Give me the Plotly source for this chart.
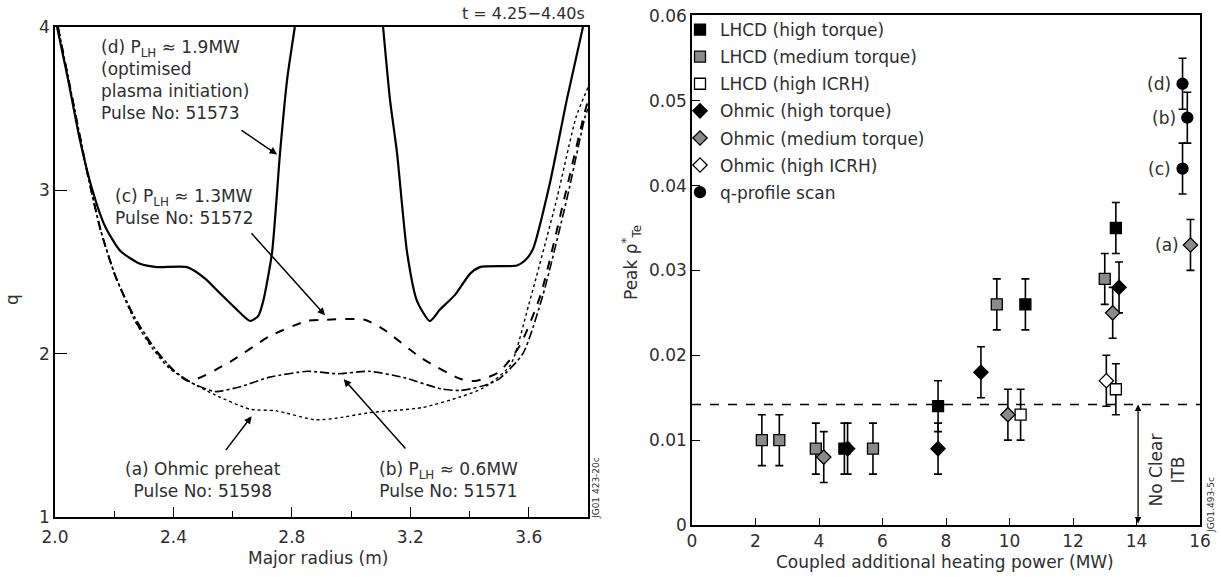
import plotly.graph_objects as go

# ---------------- Left panel: q profiles ----------------
R_d_in = [2.007, 2.044, 2.084, 2.125, 2.169, 2.22, 2.287, 2.344, 2.446, 2.507, 2.557, 2.608, 2.659, 2.686, 2.703, 2.733, 2.76, 2.784, 2.81]
q_d_in = [4.0, 3.68, 3.31, 3.01, 2.78, 2.63, 2.55, 2.53, 2.53, 2.46, 2.37, 2.28, 2.20, 2.23, 2.32, 2.62, 3.23, 3.68, 4.0]
R_d_out = [3.108, 3.131, 3.155, 3.189, 3.223, 3.266, 3.30, 3.351, 3.402, 3.435, 3.56, 3.587, 3.614, 3.672, 3.729, 3.783]
q_d_out = [4.0, 3.56, 3.23, 2.62, 2.32, 2.20, 2.27, 2.36, 2.49, 2.53, 2.54, 2.57, 2.64, 3.05, 3.56, 4.0]

R_c = [2.01, 2.06, 2.11, 2.155, 2.205, 2.282, 2.36, 2.45, 2.593, 2.722, 2.852, 2.917, 3.046, 3.111, 3.24, 3.37, 3.421, 3.499, 3.57, 3.64, 3.72, 3.785, 3.8]
q_c = [4.0, 3.55, 3.1, 2.75, 2.47, 2.169, 1.974, 1.833, 1.952, 2.104, 2.201, 2.208, 2.208, 2.147, 1.97, 1.845, 1.833, 1.887, 2.05, 2.36, 2.95, 3.45, 3.55]

R_b = [2.01, 2.06, 2.11, 2.155, 2.205, 2.27, 2.334, 2.399, 2.463, 2.541, 2.63, 2.722, 2.852, 2.955, 3.059, 3.175, 3.305, 3.37, 3.44, 3.499, 3.58, 3.648, 3.729, 3.79, 3.8]
q_b = [4.0, 3.55, 3.1, 2.75, 2.47, 2.22, 2.04, 1.90, 1.82, 1.768, 1.80, 1.855, 1.892, 1.877, 1.892, 1.855, 1.784, 1.775, 1.80, 1.844, 2.0, 2.36, 2.95, 3.45, 3.5]

R_a = [2.01, 2.06, 2.11, 2.155, 2.205, 2.27, 2.33, 2.386, 2.463, 2.541, 2.658, 2.748, 2.877, 2.955, 3.059, 3.24, 3.37, 3.447, 3.538, 3.60, 3.695, 3.76, 3.8]
q_a = [4.0, 3.55, 3.1, 2.75, 2.47, 2.2, 2.03, 1.91, 1.82, 1.747, 1.66, 1.65, 1.595, 1.606, 1.638, 1.67, 1.736, 1.79, 1.93, 2.30, 2.95, 3.45, 3.63]

left_xticks = [2.0, 2.4, 2.8, 3.2, 3.6]
left_xticklabels = ["2.0", "2.4", "2.8", "3.2", "3.6"]
left_xminor = [2.2, 2.6, 3.0, 3.4]
left_yticks = [1, 2, 3, 4]

# ---------------- Right panel: peak rho*_Te ----------------
lhcd_high_torque_P = [4.8, 7.75, 10.5, 13.35]
lhcd_high_torque_v = [0.009, 0.014, 0.026, 0.035]
lhcd_high_torque_e = [0.003, 0.003, 0.003, 0.003]

lhcd_med_torque_P = [2.2, 2.75, 3.9, 5.7, 9.6, 13.0]
lhcd_med_torque_v = [0.010, 0.010, 0.009, 0.009, 0.026, 0.029]
lhcd_med_torque_e = [0.003, 0.003, 0.003, 0.003, 0.003, 0.003]

lhcd_high_icrh_P = [10.35, 13.35]
lhcd_high_icrh_v = [0.013, 0.016]
lhcd_high_icrh_e = [0.003, 0.003]

ohm_high_torque_P = [4.9, 7.75, 9.1, 13.45]
ohm_high_torque_v = [0.009, 0.009, 0.018, 0.028]
ohm_high_torque_e = [0.003, 0.003, 0.003, 0.003]

ohm_med_torque_P = [4.15, 9.95, 13.25, 15.7]
ohm_med_torque_v = [0.008, 0.013, 0.025, 0.033]
ohm_med_torque_e = [0.003, 0.003, 0.003, 0.003]

ohm_high_icrh_P = [13.05]
ohm_high_icrh_v = [0.017]
ohm_high_icrh_e = [0.003]

qscan_P = [15.45, 15.6, 15.45]
qscan_v = [0.052, 0.048, 0.042]
qscan_e = [0.003, 0.003, 0.003]
qscan_labels = ["(d)", "(b)", "(c)"]
qscan_a_label = "(a)"

right_xticks = [0, 2, 4, 6, 8, 10, 12, 14, 16]
right_yticks = [0, 0.01, 0.02, 0.03, 0.04, 0.05, 0.06]
right_yticklabels = ["0", "0.01", "0.02", "0.03", "0.04", "0.05", "0.06"]

itb_threshold = 0.0142
itb_arrow_P = 14.05

FONT = "DejaVu Sans, Liberation Sans, Arial, sans-serif"
TXT = "#2e2e2e"

# body margin is removed in the page, so pixel coordinates map directly
W, H = 1221, 577


def px(x):
    return x / W


def py(y):
    return 1 - y / H


fig = go.Figure()


def curve(x, y, dash, width):
    fig.add_trace(go.Scatter(x=x, y=y, mode="lines", xaxis="x", yaxis="y",
                             line=dict(color="black", width=width, dash=dash, shape="spline", smoothing=0.6),
                             showlegend=False, hoverinfo="skip"))


curve(R_a, q_a, "dot", 1.4)
curve(R_b, q_b, "dashdot", 1.6)
curve(R_c, q_c, "dash", 2.0)
curve(R_d_in, q_d_in, "solid", 2.2)
curve(R_d_out, q_d_out, "solid", 2.2)


def series(name, x, y, e, symbol, fill, group):
    fig.add_trace(go.Scatter(
        x=x, y=y, mode="markers", name=name, xaxis="x2", yaxis="y2",
        legendgroup=group,
        marker=dict(symbol=symbol, size=11, color=fill, line=dict(color="black", width=1.3)),
        error_y=dict(type="data", array=e, visible=True, color="black", thickness=1.6, width=4),
    ))


series("LHCD (high torque)", lhcd_high_torque_P, lhcd_high_torque_v, lhcd_high_torque_e, "square", "black", "g1")
series("LHCD (medium torque)", lhcd_med_torque_P, lhcd_med_torque_v, lhcd_med_torque_e, "square", "#8a8a8a", "g2")
series("LHCD (high ICRH)", lhcd_high_icrh_P, lhcd_high_icrh_v, lhcd_high_icrh_e, "square", "white", "g3")
series("Ohmic (high torque)", ohm_high_torque_P, ohm_high_torque_v, ohm_high_torque_e, "diamond", "black", "g4")
series("Ohmic (medium torque)", ohm_med_torque_P, ohm_med_torque_v, ohm_med_torque_e, "diamond", "#8a8a8a", "g5")
series("Ohmic (high ICRH)", ohm_high_icrh_P, ohm_high_icrh_v, ohm_high_icrh_e, "diamond", "white", "g6")
series("q-profile scan", qscan_P, qscan_v, qscan_e, "circle", "black", "g7")

axis_common = dict(showline=True, linecolor="black", linewidth=1.6, mirror=True, ticks="inside",
                   tickcolor="black", tickwidth=1.4, showgrid=False, zeroline=False,
                   tickfont=dict(family=FONT, size=17, color=TXT), automargin=False)

fig.update_layout(
    width=W, height=H,
    margin=dict(l=0, r=0, t=0, b=0),
    paper_bgcolor="white", plot_bgcolor="white",
    font=dict(family=FONT, size=17, color=TXT),
    xaxis=dict(domain=[px(55), px(588)], range=[2.0, 3.8], tickvals=left_xticks,
               ticktext=left_xticklabels, ticklen=10, ticklabelstandoff=4,
               minor=dict(tickvals=left_xminor, ticks="inside", ticklen=6, tickcolor="black"),
               anchor="y", **axis_common),
    yaxis=dict(domain=[py(517), py(27)], range=[1, 4], tickvals=left_yticks, ticklen=12,
               anchor="x", **axis_common),
    xaxis2=dict(domain=[px(692), px(1200)], range=[0, 16], tickvals=right_xticks, ticklen=7,
                anchor="y2", **axis_common),
    yaxis2=dict(domain=[py(525), py(15)], range=[0, 0.0601], tickvals=right_yticks,
                ticktext=right_yticklabels, ticklen=8, anchor="x2", **axis_common),
    legend=dict(x=px(680), y=py(12), xanchor="left", yanchor="top", bgcolor="rgba(0,0,0,0)",
                font=dict(family=FONT, size=17, color=TXT), tracegroupgap=2, itemwidth=30),
    showlegend=True,
)

# threshold line
fig.add_shape(type="line", xref="x2", yref="y2", x0=0, x1=16, y0=itb_threshold, y1=itb_threshold,
              line=dict(color="black", width=1.6, dash="dash"))

ann = []
# left panel texts
ann.append(dict(xref="x", yref="y", x=2.15, y=3.95, xanchor="left", yanchor="top", align="left",
                text="(d) P<sub>LH</sub> ≈ 1.9MW<br>(optimised<br>plasma initiation)<br>Pulse No: 51573",
                showarrow=False))
ann.append(dict(xref="x", yref="y", x=2.75, y=3.22, ax=2.625, ay=3.373, axref="x", ayref="y",
                text="", showarrow=True, arrowhead=2, arrowsize=1, arrowwidth=1.5, arrowcolor="black"))
ann.append(dict(xref="x", yref="y", x=2.196, y=3.04, xanchor="left", yanchor="top", align="left",
                text="(c) P<sub>LH</sub> ≈ 1.3MW<br>Pulse No: 51572", showarrow=False))
ann.append(dict(xref="x", yref="y", x=2.912, y=2.235, ax=2.659, ay=2.746, axref="x", ayref="y",
                text="", showarrow=True, arrowhead=2, arrowsize=1, arrowwidth=1.5, arrowcolor="black"))
ann.append(dict(xref="x", yref="y", x=2.50, y=1.37, xanchor="center", yanchor="top", align="center",
                text="(a) Ohmic preheat<br>Pulse No: 51598", showarrow=False))
ann.append(dict(xref="x", yref="y", x=2.664, y=1.617, ax=2.573, ay=1.40, axref="x", ayref="y",
                text="", showarrow=True, arrowhead=2, arrowsize=1, arrowwidth=1.5, arrowcolor="black"))
ann.append(dict(xref="x", yref="y", x=3.33, y=1.37, xanchor="center", yanchor="top", align="center",
                text="(b) P<sub>LH</sub> ≈ 0.6MW<br>Pulse No: 51571", showarrow=False))
ann.append(dict(xref="x", yref="y", x=2.975, y=1.844, ax=3.188, ay=1.41, axref="x", ayref="y",
                text="", showarrow=True, arrowhead=2, arrowsize=1, arrowwidth=1.5, arrowcolor="black"))
ann.append(dict(xref="paper", yref="paper", x=px(587), y=py(13), xanchor="right", yanchor="middle",
                text="t = 4.25−4.40s", showarrow=False, font=dict(size=16)))
ann.append(dict(xref="paper", yref="paper", x=px(12), y=py(300), xanchor="center", yanchor="middle",
                text="q", textangle=-90, showarrow=False))
ann.append(dict(xref="paper", yref="paper", x=px(318), y=py(558), xanchor="center", yanchor="middle",
                text="Major radius (m)", showarrow=False))
ann.append(dict(xref="paper", yref="paper", x=px(596), y=py(488), xanchor="center", yanchor="middle",
                text="JG01 423-20c", textangle=-90, showarrow=False, font=dict(size=9)))

# right panel texts
ann.append(dict(xref="paper", yref="paper", x=px(632), y=py(262), xanchor="center", yanchor="middle",
                text="Peak ρ<sup>*</sup><sub>Te</sub>", textangle=-90, showarrow=False))
ann.append(dict(xref="paper", yref="paper", x=px(945), y=py(562), xanchor="center", yanchor="middle",
                text="Coupled additional heating power (MW)", showarrow=False))
ann.append(dict(xref="paper", yref="paper", x=px(1211), y=py(505), xanchor="center", yanchor="middle",
                text="JG01.493-5c", textangle=-90, showarrow=False, font=dict(size=9)))
for P, v, lab in zip(qscan_P, qscan_v, qscan_labels):
    ann.append(dict(xref="x2", yref="y2", x=P - 0.3, y=v, xanchor="right", yanchor="middle",
                    text=lab, showarrow=False))
ann.append(dict(xref="x2", yref="y2", x=ohm_med_torque_P[-1] - 0.3, y=ohm_med_torque_v[-1],
                xanchor="right", yanchor="middle", text=qscan_a_label, showarrow=False))
ann.append(dict(xref="x2", yref="y2", x=itb_arrow_P, y=itb_threshold, ax=itb_arrow_P, ay=0,
                axref="x2", ayref="y2", text="", showarrow=True, arrowhead=2, startarrowhead=2,
                arrowside="end+start", arrowsize=1, arrowwidth=1.3, arrowcolor="black"))
ann.append(dict(xref="x2", yref="y2", x=14.95, y=0.0065, xanchor="center", yanchor="middle",
                text="No Clear<br>ITB", textangle=-90, showarrow=False))

fig.update_layout(annotations=ann)
fig.write_html(
    "out.html",
    config={"displayModeBar": False},
    post_script="document.body.style.margin='0px';document.body.style.overflow='hidden';",
)
